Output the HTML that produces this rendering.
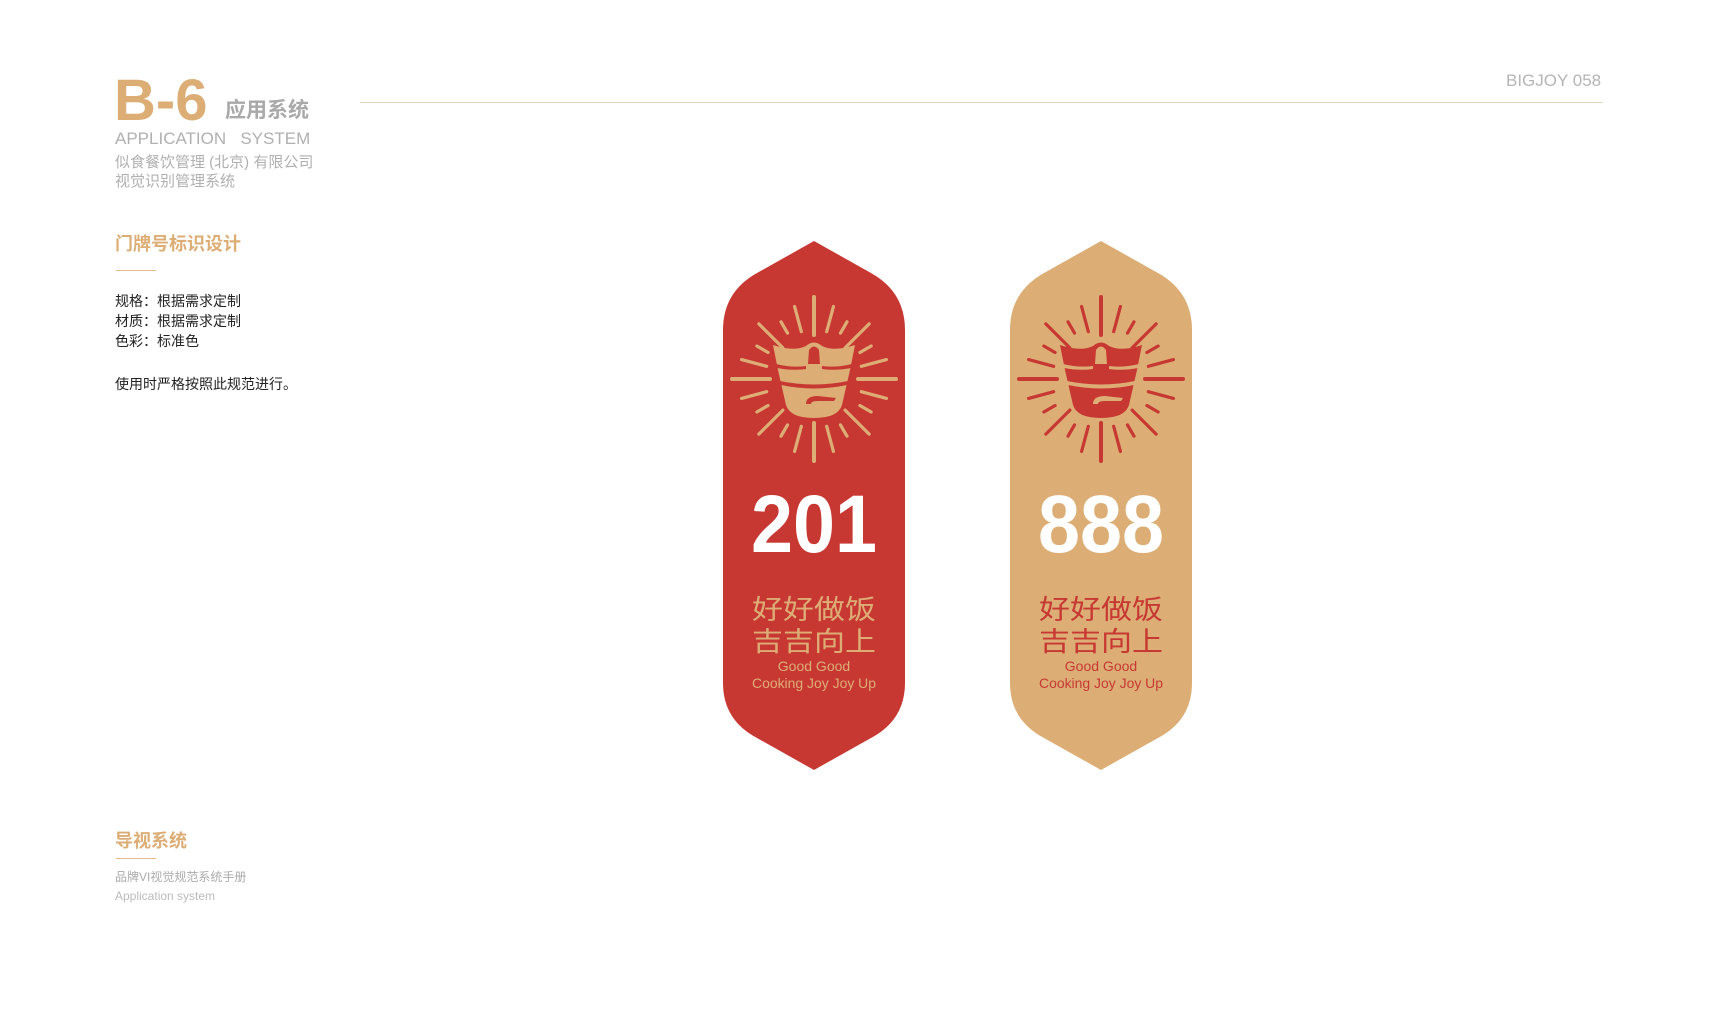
<!DOCTYPE html>
<html><head><meta charset="utf-8"><style>
body{margin:0;width:1719px;height:1011px;background:#fff;position:relative;overflow:hidden;font-family:"Liberation Sans","Noto Sans CJK SC",sans-serif}
.t{position:absolute;white-space:nowrap;line-height:1}
</style></head><body>
<div class="t" style="left:114px;top:72px;font-size:58px;font-weight:bold;color:#dcae76">B-6</div>
<div class="t" style="left:225px;top:100px;font-size:21px;font-weight:bold;color:#a9a9a9">应用系统</div>
<div class="t" style="left:115px;top:130px;font-size:17px;color:#b0b0b0">APPLICATION&nbsp;&nbsp; SYSTEM</div>
<div class="t" style="left:115px;top:155px;font-size:15px;color:#b0b0b0">似食餐饮管理 (北京) 有限公司</div>
<div class="t" style="left:115px;top:174px;font-size:15px;color:#b0b0b0">视觉识别管理系统</div>
<div class="t" style="left:115px;top:235px;font-size:18px;font-weight:bold;color:#dcae76">门牌号标识设计</div>
<div style="position:absolute;left:116px;top:270px;width:40px;height:1px;background:#e6b98a"></div>
<div class="t" style="left:115px;top:294px;font-size:14px;color:#222">规格：根据需求定制</div>
<div class="t" style="left:115px;top:314px;font-size:14px;color:#222">材质：根据需求定制</div>
<div class="t" style="left:115px;top:334px;font-size:14px;color:#222">色彩：标准色</div>
<div class="t" style="left:115px;top:377px;font-size:14px;color:#222">使用时严格按照此规范进行。</div>
<div class="t" style="left:1506px;top:72px;font-size:17px;color:#b5b5b5">BIGJOY 058</div>
<div style="position:absolute;left:360px;top:102px;width:1243px;height:1px;background:#e4d3bd"></div>
<div class="t" style="left:115px;top:832px;font-size:18px;font-weight:bold;color:#dcae76">导视系统</div>
<div style="position:absolute;left:116px;top:858px;width:40px;height:1px;background:#e6b98a"></div>
<div class="t" style="left:115px;top:871px;font-size:12px;color:#aaa">品牌VI视觉规范系统手册</div>
<div class="t" style="left:115px;top:890px;font-size:12px;color:#bbb">Application system</div>
<svg id="s" width="1719" height="1011" style="position:absolute;left:0;top:0"></svg>
<script>
const signs=[{cx:814,bg:"#c83833",fg:"#dcae76",num:"201"},{cx:1101,bg:"#dcae76",fg:"#c83833",num:"888"}];
const svg=document.getElementById('s');const NS="http://www.w3.org/2000/svg";
function mk(t,a,p){const e=document.createElementNS(NS,t);for(const k in a)e.setAttribute(k,a[k]);(p||svg).appendChild(e);return e;}
const rayIn=[44,49,53,44,53,49],rayOut=[82,75,66,78,66,75];
signs.forEach((s,i)=>{
 const g=mk('g',{});
 
 
 const c=s.cx,L=c-91,R=c+91;
 mk('path',{d:`M${c},241 L${c+57},273 Q${R},292 ${R},330 L${R},683 Q${R},720 ${c+57},738 L${c},770 L${c-57},738 Q${L},720 ${L},683 L${L},330 Q${L},292 ${c-57},273 Z`,fill:s.bg},g);
 const cy=379;
 for(let k=0;k<24;k++){const a=k*Math.PI/12;const m=k%6;const r0=rayIn[m],r1=rayOut[m];
  const w=m==0?4:3.2;const x0=c+r0*Math.cos(a),y0=cy+r0*Math.sin(a),x1=c+r1*Math.cos(a),y1=cy+r1*Math.sin(a);
  mk('line',{x1:x0,y1:y0,x2:x1,y2:y1,stroke:s.fg,'stroke-width':w,'stroke-linecap':'round'},g);}
 mk('path',{d:`M${c-41},345 Q${c-20},352 ${c-8},346 Q${c},339 ${c+8},346 Q${c+20},352 ${c+41},345 L${c+36},370 L${c+28},405 Q${c+24},418 ${c},418 Q${c-24},418 ${c-28},405 L${c-36},370 Z`,fill:s.fg},g);
 mk('path',{d:`M${c-38},364 Q${c-22},368 ${c-8},366 L${c-8},369 Q${c-22},371 ${c-37},368 Z`,fill:s.bg},g);
 mk('path',{d:`M${c+38},364 Q${c+22},368 ${c+8},366 L${c+8},369 Q${c+22},371 ${c+37},368 Z`,fill:s.bg},g);
 mk('path',{d:`M${c-34},381 Q${c},388 ${c+34},381 L${c+33},385 Q${c},392 ${c-33},385 Z`,fill:s.bg},g);
 mk('path',{d:`M${c-8},404 Q${c-8},396 ${c+4},396 L${c+22},398 L${c+20},401 L${c+4},401 Q${c-3},401 ${c-3},404 Z`,fill:s.bg},g);
 mk('path',{d:`M${c-5},350 Q${c},343 ${c+5},350 L${c+6},364 L${c-6},364 Z`,fill:s.bg},g);
 const n=mk('text',{x:c,y:552,'text-anchor':'middle','font-size':82,'font-weight':'bold',fill:'#fff','font-family':'Liberation Sans,sans-serif',textLength:126,lengthAdjust:'spacingAndGlyphs'},g);n.textContent=s.num;
 [["好好做饭",619],["吉吉向上",651]].forEach(t=>{const e=mk('text',{x:c,y:t[1],'text-anchor':'middle','font-size':27,fill:s.fg,'font-family':'Noto Sans CJK SC,sans-serif',textLength:124,lengthAdjust:'spacingAndGlyphs'},g);e.textContent=t[0];});
 [["Good Good",671,null],["Cooking Joy Joy Up",688,124]].forEach(t=>{const a={x:c,y:t[1],'text-anchor':'middle','font-size':14,fill:s.fg,'font-family':'Liberation Sans,sans-serif'};if(t[2]){a.textLength=t[2];a.lengthAdjust='spacingAndGlyphs';}const e=mk('text',a,g);e.textContent=t[0];});
});
</script>
</body></html>
